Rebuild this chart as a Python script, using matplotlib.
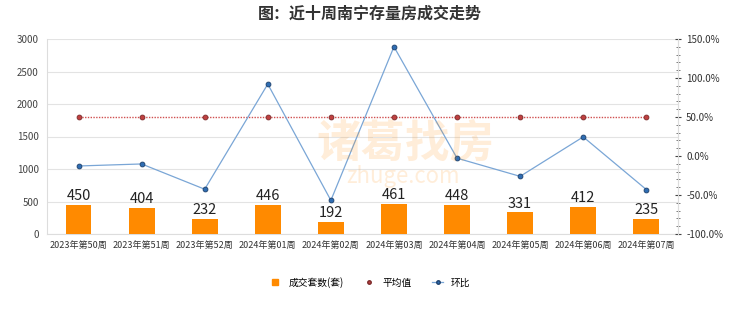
import matplotlib
matplotlib.use("Agg")
import matplotlib.pyplot as plt
from matplotlib.ticker import MultipleLocator, FuncFormatter
from matplotlib.lines import Line2D

plt.rcParams['font.family'] = ['Noto Sans CJK SC', 'DejaVu Sans']

weeks = ["2023年第50周", "2023年第51周", "2023年第52周", "2024年第01周", "2024年第02周",
         "2024年第03周", "2024年第04周", "2024年第05周", "2024年第06周", "2024年第07周"]
deals = [450, 404, 232, 446, 192, 461, 448, 331, 412, 235]
avg_pct = [50, 50, 50, 50, 50, 50, 50, 50, 50, 50]
mom_pct = [-12.8, -10.2, -42.6, 92.2, -56.9, 140.1, -2.8, -26.1, 24.5, -43.0]

fig = plt.figure(figsize=(7.4, 3.12), dpi=100)
ax = fig.add_axes([0.0635, 0.25, 0.8525, 0.625])
x = list(range(len(weeks)))

ax.bar(x, deals, width=0.41, color='#FF8A00', zorder=3)
for xi, v in zip(x, deals):
    ax.text(xi, v + 30, str(v), ha='center', va='bottom', fontsize=10.5, color='#222222', zorder=5)

ax.set_ylim(0, 3000)
ax.set_xlim(-0.5, len(weeks) - 0.5)
ax.yaxis.set_major_locator(MultipleLocator(500))
ax.grid(axis='y', color='#e3e3e3', linewidth=0.8, zorder=0)
ax.set_xticks(x)
ax.set_xticklabels(weeks, fontsize=6.5, color='#333333')
ax.tick_params(axis='y', length=0, labelsize=7, colors='#444444', pad=6)
ax.tick_params(axis='x', length=0, pad=5)
ax.spines['top'].set_visible(False)
for s in ['left', 'right', 'bottom']:
    ax.spines[s].set_color('#dddddd')

ax2 = ax.twinx()
ax2.set_ylim(-100, 150)
ax2.yaxis.set_major_locator(MultipleLocator(50))
ax2.yaxis.set_minor_locator(MultipleLocator(10))
ax2.yaxis.set_major_formatter(FuncFormatter(lambda v, p: f"{v:.1f}%"))
ax2.tick_params(axis='y', which='major', length=4, direction='inout', labelsize=7, colors='#444444', pad=4)
ax2.tick_params(axis='y', which='minor', length=3, direction='inout', colors='#666666')
for lbl in ax2.get_yticklabels():
    lbl.set_color('#333333')
for s in ['top', 'left', 'bottom']:
    ax2.spines[s].set_visible(False)
ax2.spines['right'].set_color('#dddddd')

ax2.plot(x, avg_pct, linestyle=(0, (1, 1)), color='#d05050', linewidth=1.0,
         marker='o', markersize=3.5, markerfacecolor='#c04040', markeredgecolor='#7a2a2a',
         markeredgewidth=0.6, zorder=4)
ax2.plot(x, mom_pct, color='#7aa6d6', linewidth=0.9,
         marker='o', markersize=3.5, markerfacecolor='#2f6db3', markeredgecolor='#1c3f6b',
         markeredgewidth=0.6, zorder=4)

# watermark
fig.text(0.548, 0.54, "诸葛找房", fontsize=32, color='#FF8A00', alpha=0.15,
         ha='center', va='center', fontweight='bold')
fig.text(0.545, 0.435, "zhuge.com", fontsize=16, color='#FF8A00', alpha=0.15,
         ha='center', va='center')

fig.text(0.5, 0.955, "图：近十周南宁存量房成交走势", ha='center', va='center',
         fontsize=11.5, color='#333333', fontweight='bold')

handles = [
    Line2D([], [], linestyle='none', marker='s', markersize=5, markerfacecolor='#FF8A00', markeredgecolor='#FF8A00'),
    Line2D([], [], linestyle='none', marker='o', markersize=2.5, markerfacecolor='#c04040', markeredgecolor='#7a2a2a'),
    Line2D([], [], color='#7aa6d6', linewidth=0.9, marker='o', markersize=2.5, markerfacecolor='#2f6db3', markeredgecolor='#1c3f6b'),
]
fig.legend(handles, ["成交套数(套)", "平均值", "环比"], loc='center', bbox_to_anchor=(0.5, 0.095),
           ncol=3, frameon=False, fontsize=7, handlelength=1.2, columnspacing=2.0, handletextpad=0.8)

fig.savefig("out.png", dpi=100, facecolor='white')
